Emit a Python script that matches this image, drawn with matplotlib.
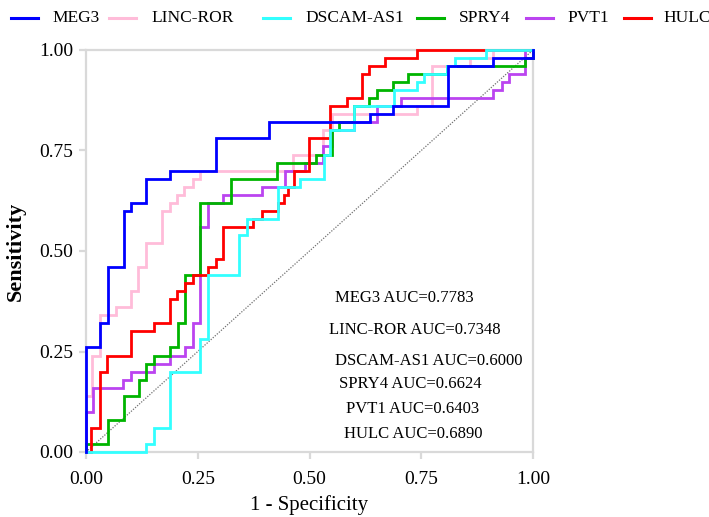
import matplotlib
matplotlib.use("Agg")
import matplotlib.pyplot as plt
from matplotlib.lines import Line2D

plt.rcParams['font.family'] = ['Liberation Serif', 'DejaVu Serif']

# ---- data (step vertices: fpr of each vertical jump, tpr reached) ----
names = ["MEG3", "LINC-ROR", "DSCAM-AS1", "SPRY4", "PVT1", "HULC"]
aucs = ["0.7783", "0.7348", "0.6000", "0.6624", "0.6403", "0.6890"]

meg3_fpr = [0, 0, 0.031, 0.049, 0.084, 0.10, 0.135, 0.187, 0.29, 0.41, 0.635, 0.687, 0.809, 0.911, 1.0]
meg3_tpr = [0, 0.26, 0.32, 0.46, 0.60, 0.62, 0.68, 0.70, 0.78, 0.82, 0.84, 0.86, 0.96, 0.98, 1.0]

linc_fpr = [0, 0, 0.014, 0.031, 0.066, 0.10, 0.116, 0.135, 0.17, 0.187, 0.204, 0.22, 0.239, 0.256,
            0.464, 0.531, 0.55, 0.74, 0.773, 0.859, 0.91, 1.0]
linc_tpr = [0, 0.14, 0.24, 0.34, 0.36, 0.40, 0.46, 0.52, 0.60, 0.62, 0.64, 0.66, 0.68, 0.70,
            0.74, 0.80, 0.84, 0.86, 0.96, 0.98, 1.0, 1.0]

dscam_fpr = [0, 0.135, 0.152, 0.189, 0.256, 0.273, 0.343, 0.36, 0.43, 0.479, 0.533, 0.546,
             0.60, 0.69, 0.74, 0.757, 0.807, 0.826, 0.895, 1.0]
dscam_tpr = [0, 0.02, 0.06, 0.20, 0.28, 0.44, 0.54, 0.58, 0.66, 0.68, 0.74, 0.80,
             0.86, 0.90, 0.92, 0.94, 0.96, 0.98, 1.0, 1.0]

spry4_fpr = [0, 0, 0.049, 0.084, 0.118, 0.135, 0.152, 0.189, 0.206, 0.222, 0.256, 0.325, 0.428,
             0.515, 0.55, 0.567, 0.60, 0.634, 0.65, 0.687, 0.72, 0.807, 0.982, 1.0]
spry4_tpr = [0, 0.02, 0.08, 0.14, 0.18, 0.22, 0.24, 0.26, 0.32, 0.44, 0.62, 0.68, 0.72,
             0.74, 0.80, 0.82, 0.86, 0.88, 0.90, 0.92, 0.94, 0.96, 0.98, 1.0]

pvt1_fpr = [0, 0, 0.016, 0.083, 0.10, 0.152, 0.187, 0.222, 0.239, 0.256, 0.273, 0.306, 0.393,
            0.445, 0.49, 0.53, 0.55, 0.60, 0.65, 0.704, 0.911, 0.93, 0.947, 0.982, 1.0]
pvt1_tpr = [0, 0.10, 0.16, 0.18, 0.20, 0.22, 0.24, 0.26, 0.32, 0.56, 0.62, 0.64, 0.66,
            0.70, 0.72, 0.76, 0.80, 0.82, 0.86, 0.88, 0.90, 0.92, 0.94, 1.0, 1.0]

hulc_fpr = [0, 0.012, 0.031, 0.048, 0.10, 0.152, 0.189, 0.204, 0.222, 0.239, 0.273, 0.29, 0.306,
            0.374, 0.394, 0.43, 0.443, 0.452, 0.466, 0.499, 0.546, 0.583, 0.618, 0.634, 0.669, 0.74, 1.0]
hulc_tpr = [0, 0.06, 0.20, 0.24, 0.30, 0.32, 0.38, 0.40, 0.42, 0.44, 0.46, 0.48, 0.56,
            0.58, 0.60, 0.62, 0.64, 0.66, 0.70, 0.78, 0.86, 0.88, 0.94, 0.96, 0.98, 1.0, 1.0]

colors = {"MEG3": "#0000ff", "LINC-ROR": "#ffbcd9", "DSCAM-AS1": "#33ffff",
          "SPRY4": "#00b400", "PVT1": "#bb44f0", "HULC": "#ff0000"}

curves = {"MEG3": (meg3_fpr, meg3_tpr), "LINC-ROR": (linc_fpr, linc_tpr),
          "DSCAM-AS1": (dscam_fpr, dscam_tpr), "SPRY4": (spry4_fpr, spry4_tpr),
          "PVT1": (pvt1_fpr, pvt1_tpr), "HULC": (hulc_fpr, hulc_tpr)}

W, H = 709, 517
fig = plt.figure(figsize=(W / 100, H / 100), dpi=100)
ax = fig.add_axes([86 / W, 1 - 452 / H, (533 - 86) / W, (452 - 50) / H])

grey = "#d9d9d9"
ax.plot([0, 1], [0, 1], linestyle=(0, (1, 1.2)), color="#707070", lw=0.9, zorder=1)

draw_order = ["LINC-ROR", "PVT1", "SPRY4", "HULC", "DSCAM-AS1", "MEG3"]
for i, n in enumerate(draw_order):
    f, t = curves[n]
    ax.plot(f, t, drawstyle="steps-post", color=colors[n], lw=2.0, zorder=2 + i,
            clip_on=False, solid_joinstyle="miter")

ax.set_xlim(0, 1)
ax.set_ylim(0, 1)
ticks = [0, 0.25, 0.5, 0.75, 1.0]
ax.set_xticks(ticks)
ax.set_yticks(ticks)
ax.set_xticklabels(["0.00", "0.25", "0.50", "0.75", "1.00"])
ax.set_yticklabels(["0.00", "0.25", "0.50", "0.75", "1.00"])
for s in ax.spines.values():
    s.set_color(grey)
    s.set_linewidth(1.6)
ax.tick_params(direction="out", length=5, width=1.6, color=grey, labelsize=14,
               labelcolor="black")
ax.tick_params(axis="x", pad=9)
ax.tick_params(axis="y", pad=4)

ax.set_xlabel("1 - Specificity", fontsize=15, labelpad=5)
ax.set_ylabel("Sensitivity", fontsize=16, fontweight="bold", labelpad=10)

# AUC annotations
auc_pos = [(0.557, 0.383), (0.543, 0.303), (0.557, 0.226), (0.567, 0.168), (0.581, 0.106), (0.578, 0.046)]
for (x, y), n, a in zip(auc_pos, names, aucs):
    ax.text(x, y, f"{n} AUC={a}", fontsize=12, ha="left", va="center")

# legend drawn at top
leg_line_x = [11, 109, 263, 417, 526, 624]
leg_text_x = [52, 151, 305, 459, 567, 663]
ly = 1 - 18 / H
for n, lx, tx in zip(names, leg_line_x, leg_text_x):
    fig.add_artist(Line2D([lx / W, (lx + 27) / W], [ly, ly], color=colors[n], lw=2.2,
                          transform=fig.transFigure))
    fig.text(tx / W, ly, n, fontsize=12.5, ha="left", va="center")

fig.savefig("out.png", dpi=100)
